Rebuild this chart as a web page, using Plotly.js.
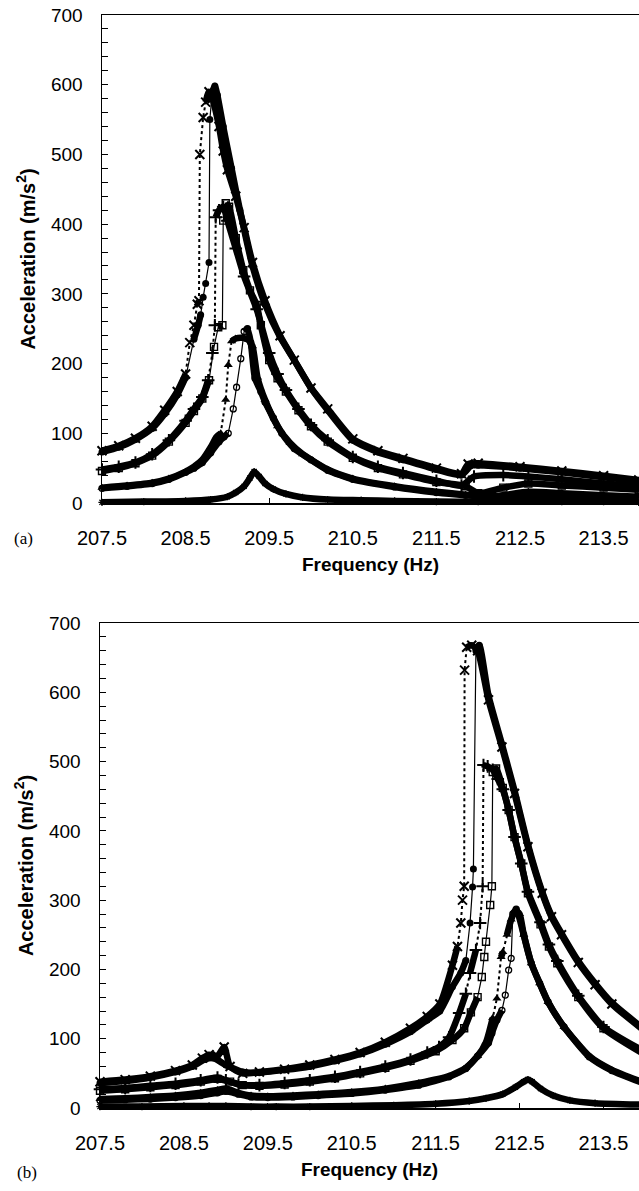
<!DOCTYPE html>
<html>
<head>
<meta charset="utf-8">
<script src="https://cdn.plot.ly/plotly-3.0.1.min.js"></script>
<style>html,body{margin:0;padding:0;background:#fff;}#chart{width:639px;height:1191px;}</style>
</head>
<body>
<div id="chart"></div>
<script>
// ---------- Panel (a) ----------
const a_cross_f = [207.5,207.7,207.9,208.1,208.25,208.4,208.5,208.55,208.6,208.64,208.66,208.67,208.71,208.74,208.78,208.82,208.9,208.95,209.0,209.1,209.2,209.3,209.45,209.63,209.8,210.0,210.2,210.5,210.8,211.1,211.5,211.8,211.88,212.0,212.5,213.0,213.5,213.92];
const a_cross_v = [75,82,93,110,133,160,185,230,255,285,290,500,553,575,590,580,540,505,478,440,395,345,290,240,205,165,135,92,75,64,50,42,56,57,52,46,39,33];

const a_circ_f = [207.5,207.7,207.9,208.1,208.25,208.4,208.5,208.6,208.65,208.68,208.71,208.74,208.78,208.79,208.82,208.85,208.88,208.95,209.05,209.15,209.3,209.45,209.63,209.8,210.0,210.2,210.5,210.8,211.1,211.5,211.8,211.92,212.0,212.5,213.0,213.5,213.92];
const a_circ_v = [73,80,91,107,128,155,180,235,255,270,295,315,345,550,590,598,585,540,480,420,340,285,238,205,165,133,90,73,62,48,40,54,54,50,44,37,31];

const a_plus_f = [207.5,207.7,207.9,208.1,208.3,208.5,208.6,208.7,208.77,208.82,208.85,208.86,208.9,208.95,209.0,209.1,209.2,209.35,209.5,209.6,209.7,209.85,210.0,210.2,210.5,210.8,211.1,211.5,211.8,211.95,212.3,212.6,213.0,213.5,213.92];
const a_plus_v = [48,52,58,70,90,118,135,152,176,215,255,410,420,425,405,365,325,278,215,185,162,135,112,90,66,52,43,32,25,38,40,38,34,28,24];

const a_sq_f = [207.5,207.7,207.9,208.1,208.3,208.5,208.6,208.7,208.78,208.84,208.89,208.94,208.95,208.98,209.02,209.1,209.19,209.27,209.35,209.4,209.5,209.6,209.7,209.85,210.0,210.2,210.5,210.8,211.1,211.5,211.85,212.0,212.3,212.6,213.0,213.5,213.92];
const a_sq_v = [46,50,57,68,88,115,132,150,176,224,252,255,405,430,425,380,334,305,284,255,205,179,160,133,110,88,65,50,41,30,24,14,22,28,25,22,19];

const a_tri_f = [207.5,207.8,208.1,208.3,208.5,208.6,208.7,208.8,208.87,208.92,208.98,209.01,209.05,209.1,209.18,209.25,209.3,209.36,209.45,209.6,209.75,209.9,210.2,210.5,211.0,211.5,211.85,212.2,212.6,213.0,213.5,213.92];
const a_tri_v = [22,25,29,35,45,52,62,80,95,100,148,198,232,236,237,234,225,180,148,110,86,70,48,35,24,16,12,10,16,14,11,9];

const a_ocirc_f = [207.5,207.8,208.1,208.3,208.5,208.6,208.7,208.8,208.9,208.96,209.01,209.07,209.11,209.16,209.2,209.24,209.28,209.33,209.4,209.45,209.55,209.65,209.8,210.0,210.2,210.5,211.0,211.5,211.85,212.2,212.6,213.0,213.5,213.92];
const a_ocirc_v = [21,24,28,34,44,50,58,72,88,95,100,135,166,207,246,250,230,179,160,145,122,100,78,62,47,34,23,15,11,8,8,7,6,5];

const a_star_f = [207.5,208.0,208.5,208.8,209.0,209.1,209.2,209.27,209.32,209.38,209.45,209.55,209.7,209.9,210.2,210.6,211.0,211.5,212.0,212.5,213.0,213.5,213.92];
const a_star_v = [1,2,3,5,9,15,24,36,45,38,28,20,13,8,5,4,3,2,2,3,2,2,1];

// ---------- Panel (b) ----------
const b_cross_f = [207.5,207.8,208.1,208.4,208.6,208.72,208.8,208.9,208.98,209.05,209.2,209.4,209.7,210.0,210.3,210.6,210.9,211.2,211.4,211.55,211.7,211.76,211.8,211.82,211.84,211.845,211.87,211.93,212.0,212.13,212.29,212.44,212.6,212.77,212.88,213.0,213.2,213.4,213.6,213.95];
const b_cross_v = [38,41,46,54,62,72,77,75,88,60,50,52,56,62,70,80,95,115,132,150,206,233,267,300,320,632,665,668,660,589,521,454,377,310,276,250,210,178,150,115];

const b_circ_f = [207.5,207.8,208.1,208.4,208.6,208.75,208.85,209.0,209.2,209.4,209.7,210.0,210.3,210.6,210.9,211.2,211.4,211.55,211.7,211.8,211.86,211.91,211.94,211.95,211.98,212.02,212.13,212.29,212.44,212.6,212.77,212.88,213.0,213.2,213.4,213.6,213.95];
const b_circ_v = [36,39,44,52,60,70,72,62,52,51,55,60,68,78,92,110,127,140,175,195,213,267,319,345,660,668,595,525,458,380,312,278,252,212,180,152,117];

const b_plus_f = [207.5,207.8,208.1,208.4,208.7,208.9,209.0,209.15,209.4,209.7,210.0,210.3,210.6,210.9,211.2,211.4,211.54,211.66,211.78,211.86,211.91,211.98,212.03,212.06,212.07,212.12,212.18,212.24,212.3,212.37,212.44,212.52,212.6,212.75,212.85,212.95,213.2,213.5,213.95];
const b_plus_v = [27,29,32,35,40,44,40,34,33,36,40,45,52,60,70,80,88,102,137,165,195,228,267,320,495,493,488,475,460,430,391,353,312,268,236,212,162,117,84];

const b_sq_f = [207.5,207.8,208.1,208.4,208.7,208.9,209.05,209.2,209.4,209.7,210.0,210.3,210.6,210.9,211.2,211.5,211.7,211.84,211.92,212.0,212.05,212.08,212.1,212.15,212.17,212.18,212.22,212.3,212.37,212.44,212.52,212.6,212.75,212.85,212.95,213.2,213.5,213.95];
const b_sq_v = [25,27,30,33,38,42,38,33,32,34,38,43,50,58,68,82,98,115,138,160,189,218,240,293,320,485,490,462,430,391,353,310,265,233,209,160,115,80];

const b_tri_f = [207.5,207.8,208.1,208.4,208.7,208.9,209.0,209.15,209.3,209.5,209.8,210.1,210.5,210.9,211.3,211.66,211.86,212.0,212.1,212.18,212.23,212.28,212.3,212.35,212.4,212.45,212.5,212.55,212.64,212.74,212.84,213.03,213.33,213.6,213.95];
const b_tri_v = [13,14,16,18,22,26,28,22,18,17,18,20,23,28,36,46,58,75,95,130,158,218,225,250,272,285,280,250,209,180,153,117,75,55,38];

const b_ocirc_f = [207.5,207.8,208.1,208.4,208.7,208.9,209.0,209.15,209.3,209.5,209.8,210.1,210.5,210.9,211.3,211.66,211.86,212.0,212.13,212.17,212.23,212.29,212.33,212.37,212.4,212.42,212.46,212.55,212.64,212.74,212.84,213.03,213.33,213.6,213.95];
const b_ocirc_v = [11,12,13,15,18,22,24,20,16,15,16,18,21,26,33,45,57,75,94,108,127,141,163,199,216,280,287,250,209,180,153,117,74,54,37];

const b_star_f = [207.5,208.0,208.5,208.8,209.0,209.3,209.6,210.0,210.5,211.0,211.5,211.9,212.1,212.3,212.45,212.55,212.6,212.65,212.75,212.9,213.1,213.4,213.95];
const b_star_v = [2,2,3,3,3,2,2,2,3,4,6,10,14,20,30,38,41,38,28,18,11,7,5];

const xTickLabels = ['207.5','208.5','209.5','210.5','211.5','212.5','213.5'];
const xTickVals = [207.5,208.5,209.5,210.5,211.5,212.5,213.5];

// ---------- styles ----------
const styles = {
  cross: {sym:'x-thin-open', size:9, lw:2, dash:'dot'},
  circ:  {sym:'circle', size:7, lw:0, dash:'solid'},
  plus:  {sym:'cross-thin-open', size:9, lw:2, dash:'dot'},
  sq:    {sym:'square-open', size:7, lw:1.4, dash:'solid'},
  tri:   {sym:'triangle-up', size:8, lw:0, dash:'dot'},
  ocirc: {sym:'circle-open', size:6, lw:1.3, dash:'solid'},
  star:  {sym:'asterisk-open', size:6, lw:1.3, dash:'solid'}
};

// Dense-marker "band": drawn only where the sweep is not climbing steeply
function band(f, v, xa, ya){
  const xs=[], ys=[];
  for(let i=0;i<v.length;i++){
    if(i>0){
      const slope = (v[i]-v[i-1])/(f[i]-f[i-1]);
      if(slope > 500 || Math.abs(v[i]-v[i-1]) > 90){ xs.push(f[i]); ys.push(null); }
    }
    xs.push(f[i]); ys.push(v[i]);
  }
  return {x:xs, y:ys, xaxis:xa, yaxis:ya, type:'scatter', mode:'lines', connectgaps:false,
          line:{color:'black', width:6.5, shape:'spline', smoothing:0.6}, hoverinfo:'skip'};
}
function marks(f, v, st, xa, ya){
  const s = styles[st];
  return {x:f, y:v, xaxis:xa, yaxis:ya, type:'scatter', mode:'lines+markers', cliponaxis:false,
          line:{color:'black', width: s.dash==='dot'?2:1.2, dash:s.dash},
          marker:{symbol:s.sym, size:s.size, color:'black', line:{color:'black', width:s.lw}}};
}

const A = [[a_cross_f,a_cross_v,'cross'],[a_circ_f,a_circ_v,'circ'],[a_plus_f,a_plus_v,'plus'],
           [a_sq_f,a_sq_v,'sq'],[a_tri_f,a_tri_v,'tri'],[a_ocirc_f,a_ocirc_v,'ocirc'],[a_star_f,a_star_v,'star']];
const B = [[b_cross_f,b_cross_v,'cross'],[b_circ_f,b_circ_v,'circ'],[b_plus_f,b_plus_v,'plus'],
           [b_sq_f,b_sq_v,'sq'],[b_tri_f,b_tri_v,'tri'],[b_ocirc_f,b_ocirc_v,'ocirc'],[b_star_f,b_star_v,'star']];

const data = [];
A.forEach(s=>data.push(band(s[0],s[1],'x','y')));
B.forEach(s=>data.push(band(s[0],s[1],'x2','y2')));
A.forEach(s=>data.push(marks(s[0],s[1],s[2],'x','y')));
B.forEach(s=>data.push(marks(s[0],s[1],s[2],'x2','y2')));

const W=639, H=1191;
const fontFam = 'Liberation Sans, Arial, Helvetica, sans-serif';
function xAxis(dom, anchor){
  return {domain:dom, anchor:anchor, range:[207.5, 207.5+537/83.6], tickmode:'array',
    tickvals:xTickVals, ticktext:xTickLabels, ticks:'inside', ticklen:5, tickwidth:1, tickcolor:'black',
    showline:true, linecolor:'black', linewidth:1.5, mirror:true, showgrid:false, zeroline:false,
    tickfont:{family:fontFam, size:20, color:'black'}, ticklabelstandoff:16,
    title:{text:'Frequency (Hz)', font:{family:fontFam, size:19, color:'black', weight:'bold'}, standoff:10}};
}
function yAxis(dom, anchor){
  return {domain:dom, anchor:anchor, range:[0,700], tickmode:'linear', tick0:0, dtick:100,
    ticks:'inside', ticklen:6, tickwidth:1, tickcolor:'black',
    minor:{dtick:20, ticks:'inside', ticklen:6, tickwidth:1, tickcolor:'black'},
    showline:true, linecolor:'black', linewidth:1.5, mirror:false, showgrid:false, zeroline:false,
    tickfont:{family:fontFam, size:19, color:'black'}, ticklabelstandoff:14,
    title:{text:'Acceleration (m/s<sup>2</sup>)', font:{family:fontFam, size:20, color:'black', weight:'bold'}, standoff:10}};
}

const layout = {
  width:W, height:H, margin:{l:0,r:0,t:0,b:0}, showlegend:false,
  paper_bgcolor:'white', plot_bgcolor:'white',
  font:{family:fontFam, color:'black'},
  xaxis: xAxis([102/W, 1], 'y'),
  yaxis: yAxis([1-503/H, 1-15/H], 'x'),
  xaxis2: xAxis([100/W, 1], 'y2'),
  yaxis2: yAxis([1-1108/H, 1-623/H], 'x2'),
  annotations:[
    {text:'(a)', xref:'paper', yref:'paper', x:12/W, y:1-538/H, xanchor:'left', yanchor:'middle', showarrow:false,
     font:{family:'Liberation Serif, Times New Roman, serif', size:17, color:'black'}},
    {text:'(b)', xref:'paper', yref:'paper', x:15/W, y:1-1172/H, xanchor:'left', yanchor:'middle', showarrow:false,
     font:{family:'Liberation Serif, Times New Roman, serif', size:17, color:'black'}}
  ]
};

Plotly.newPlot('chart', data, layout, {staticPlot:true, displayModeBar:false});
</script>
</body>
</html>
